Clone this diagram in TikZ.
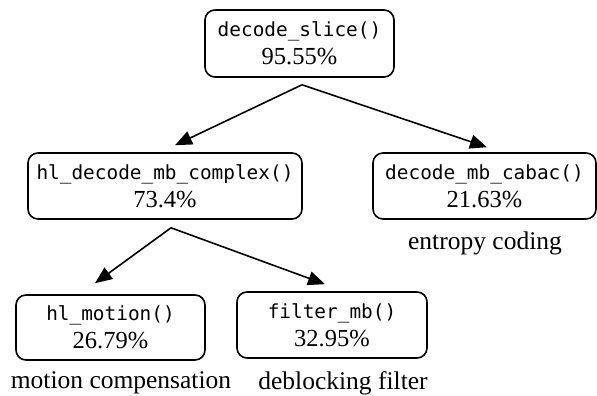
\documentclass[tikz,border=0pt]{standalone}
\usepackage{fontspec}
\setmainfont{Liberation Serif}
\setmonofont{DejaVu Sans Mono}
\usetikzlibrary{arrows.meta}
\begin{document}
\begin{tikzpicture}[x=1pt,y=1pt,
  fn/.style={draw, line width=1.6pt, rounded corners=10pt, align=center, inner sep=0pt,
     font=\fontsize{24.5}{28}\selectfont},
  lbl/.style={font=\fontsize{25.5}{28}\selectfont, inner sep=0pt},
  edge/.style={line width=1.6pt, -{Triangle[length=17pt,width=14pt]}}]
\useasboundingbox (0,0) rectangle (597,396);
\newcommand{\fnm}[1]{{\fontsize{19.4}{28}\selectfont\ttfamily #1}}
\node[fn, minimum width=189pt, minimum height=67pt] (slice) at (299.5,352.5) {\fnm{decode\_slice()}\\95.55\%};
\node[fn, minimum width=274pt, minimum height=66pt] (hldec) at (165,210) {\fnm{hl\_decode\_mb\_complex()}\\73.4\%};
\node[fn, minimum width=223pt, minimum height=66pt] (cabac) at (484.5,210) {\fnm{decode\_mb\_cabac()}\\21.63\%};
\node[fn, minimum width=189pt, minimum height=65pt] (motion) at (110.5,68.5) {\fnm{hl\_motion()}\\26.79\%};
\node[fn, minimum width=190pt, minimum height=66pt] (filter) at (332,71) {\fnm{filter\_mb()}\\32.95\%};
\node[lbl] (l1) at (485,153) {entropy coding};
\node[lbl] (l2) at (121,13) {motion compensation};
\node[lbl] (l3) at (343,13) {deblocking filter};
\coordinate (a1) at ([xshift=2.5pt,yshift=-7pt]slice.south);
\coordinate (a2) at ([xshift=6pt,yshift=-8pt]hldec.south);
\draw[edge] (a1) -- ([xshift=10pt,yshift=7pt]hldec.north);
\draw[edge] (a1) -- ([xshift=2.5pt,yshift=5pt]cabac.north);
\draw[edge] (a2) -- ([xshift=-15.5pt,yshift=11pt]motion.north);
\draw[edge] (a2) -- ([xshift=-7pt,yshift=7pt]filter.north);
\end{tikzpicture}
\end{document}
